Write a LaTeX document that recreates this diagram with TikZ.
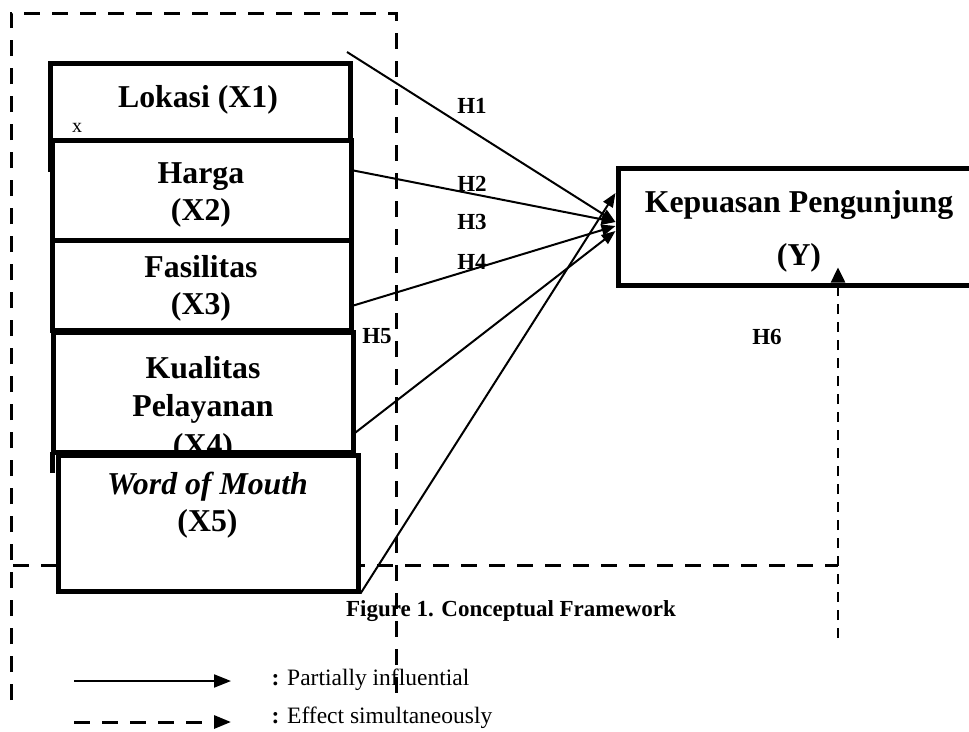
\documentclass[tikz,border=0pt]{standalone}
\usepackage{fontspec}
\setmainfont{Liberation Serif}
\usetikzlibrary{arrows.meta}

\tikzset{
  box/.style={draw, line width=5pt, fill=white, inner sep=0pt},
  lbl/.style={align=center, font=\fontsize{31.8}{37}\selectfont\bfseries},
  hyp/.style={font=\fontsize{23}{27}\selectfont\bfseries},
  frame/.style={line width=3pt, dash pattern=on 16pt off 12pt},
  simul/.style={line width=2.5pt, dash pattern=on 10pt off 8pt},
  partial/.style={line width=2pt}
}

\begin{document}
\begin{tikzpicture}[x=1pt, y=-1pt, >={Triangle[length=14pt,width=11pt]}]
\clip (0,0) rectangle (969,731);
% dashed frame
\draw[frame] (11,700) -- (11,13) -- (396,13) -- (396,700);
\draw[frame] (13,565) -- (838,565);

\node[font=\fontsize{23}{27}\selectfont\bfseries] (cap) at (511,611) {Figure 1. Conceptual Framework};

% variable boxes
\node[box, minimum width=300pt, minimum height=77pt] (x1) at (200,101.5) {};
\node[box, minimum width=299pt, minimum height=100pt] (x2) at (201.5,190.5) {};
\node[box, minimum width=299pt, minimum height=90pt] (x3) at (201.5,285.5) {};
\node[box, minimum width=300pt, minimum height=120pt] (x4) at (203,392.5) {};
\draw[line width=5pt] (50,140) -- (50,172);
\node[lbl] (t1) at (198,100) {Lokasi (X1)};
\node[font=\fontsize{20}{24}\selectfont] (xm) at (77,128) {x};
\node[lbl] (t2) at (201,195) {Harga\\(X2)};
\node[lbl] (t3) at (201,288.5) {Fasilitas\\(X3)};
\node[lbl, font=\fontsize{31.8}{38.5}\selectfont\bfseries] (t4) at (203,409) {Kualitas\\Pelayanan\\(X4)};
\node[box, minimum width=300pt, minimum height=136pt] (x5) at (208,523) {};
\draw[line width=5pt] (52.5,452) -- (52.5,473);
\node[lbl] (t5) at (207.5,505.5) {\textit{Word of Mouth}\\(X5)};

% dependent variable
\node[box, minimum width=357pt, minimum height=117pt] (y) at (796.5,226.5) {};
\node[lbl] (ty) at (799,231.5) {Kepuasan Pengunjung\\[16pt](Y)};

% partial effects
\coordinate (s1) at (347,52);
\draw[partial,->] (s1) -- ([yshift=4.5pt]y.west);
\draw[partial,->] ([yshift=20pt]x2.east) -- ([yshift=4.5pt]y.west);
\draw[partial,->] ([yshift=-20pt]x3.east) -- ([yshift=0.5pt]y.west);
\draw[partial,->] ([yshift=-40pt]x4.east) -- ([yshift=-4.5pt]y.west);
\draw[partial,->] (x5.south east) -- ([yshift=33.5pt]y.west);

% simultaneous effect
\coordinate (s6) at (838,638);
\draw[simul,-{Triangle[length=15pt,width=14pt]}] (s6) -- ([xshift=41.5pt,yshift=20pt]y.south);

\node[hyp] (h1) at (472,106) {H1};
\node[hyp] (h2) at (472,183.5) {H2};
\node[hyp] (h3) at (472,221.5) {H3};
\node[hyp] (h4) at (472,261.5) {H4};
\node[hyp] (h5) at (377,336.5) {H5};
\node[hyp] (h6) at (767,336.5) {H6};

% legend
\coordinate (la1) at (74,681);
\coordinate (la2) at (231,681);
\draw[partial,-{Triangle[length=17pt,width=13pt]}] (la1) -- (la2);
\coordinate (lb1) at (74,722);
\coordinate (lb2) at (231,722);
\draw[frame,-{Triangle[length=17pt,width=13pt]}] (lb1) -- (lb2);
\node[anchor=base west, font=\fontsize{23.5}{28}\selectfont] (lt1) at (268,685) {\textbf{:} Partially influential};
\node[anchor=base west, font=\fontsize{23.5}{28}\selectfont] (lt2) at (268,723) {\textbf{:} Effect simultaneously};
\end{tikzpicture}
\end{document}
